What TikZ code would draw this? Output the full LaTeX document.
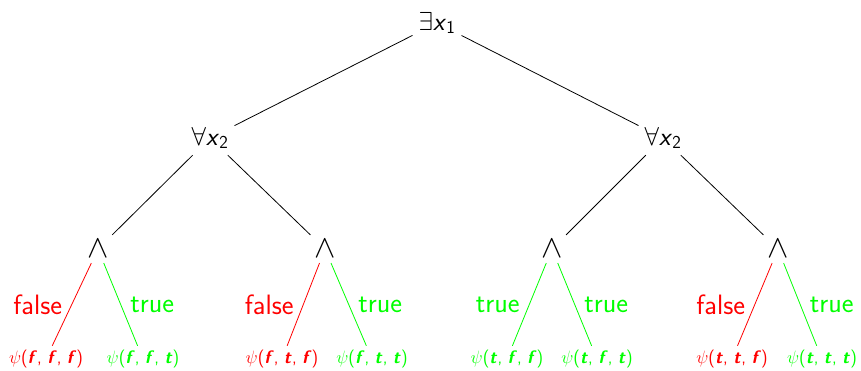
\RequirePackage{fix-cm}
\documentclass[tikz,border=0pt]{standalone}
\newcommand{\sx}[1]{\textsl{x}\textsubscript{#1}}
\newcommand{\bv}[1]{\textsf{\bfseries\slshape #1}}
\newcommand{\lf}[3]{$\psi$\textsf{(}\bv{#1}\textsf{,}\hspace{0.3em}\bv{#2}\textsf{,}\hspace{0.3em}\bv{#3}\textsf{)}}
\begin{document}
\begin{tikzpicture}[x=1pt,y=-1pt,
  op/.style={font=\fontsize{26}{30}\selectfont\sffamily, inner sep=6pt},
  andop/.style={font=\fontsize{32}{36}\selectfont, inner sep=5pt},
  leaf/.style={font=\fontsize{18}{21}\selectfont, inner sep=4pt},
  edge/.style={line width=0.8pt},
  lab/.style={font=\fontsize{28}{32}\selectfont\sffamily}]
\useasboundingbox (0,0) rectangle (861,370);
\node[op] (r) at (437,23) {$\exists$\sx{1}};
\node[op] (q1) at (210,138) {$\forall$\sx{2}};
\node[op] (q2) at (663,138) {$\forall$\sx{2}};
\node[andop] (a1) at (98,249) {$\wedge$};
\node[andop] (a2) at (325,249) {$\wedge$};
\node[andop] (a3) at (552,249) {$\wedge$};
\node[andop] (a4) at (778,249) {$\wedge$};
\node[leaf,red]   (l1) at (46,359)  {\lf fff};
\node[leaf,green] (l2) at (143,359) {\lf fft};
\node[leaf,red]   (l3) at (282,359) {\lf ftf};
\node[leaf,green] (l4) at (372,359) {\lf ftt};
\node[leaf,green] (l5) at (507,359) {\lf tff};
\node[leaf,green] (l6) at (597,359) {\lf tft};
\node[leaf,red]   (l7) at (732,359) {\lf ttf};
\node[leaf,green] (l8) at (822,359) {\lf ttt};
\draw[edge] (r) -- (q1);
\draw[edge] (r) -- (q2);
\draw[edge] (q1) -- (a1);
\draw[edge] (q1) -- (a2);
\draw[edge] (q2) -- (a3);
\draw[edge] (q2) -- (a4);
\draw[edge,red]   (a1) -- node[lab,left=6pt]  {false} (l1);
\draw[edge,green] (a1) -- node[lab,right=6pt] {true}  (l2);
\draw[edge,red]   (a2) -- node[lab,left=6pt]  {false} (l3);
\draw[edge,green] (a2) -- node[lab,right=6pt] {true}  (l4);
\draw[edge,green] (a3) -- node[lab,left=6pt]  {true}  (l5);
\draw[edge,green] (a3) -- node[lab,right=6pt] {true}  (l6);
\draw[edge,red]   (a4) -- node[lab,left=6pt]  {false} (l7);
\draw[edge,green] (a4) -- node[lab,right=6pt] {true}  (l8);
\end{tikzpicture}
\end{document}
